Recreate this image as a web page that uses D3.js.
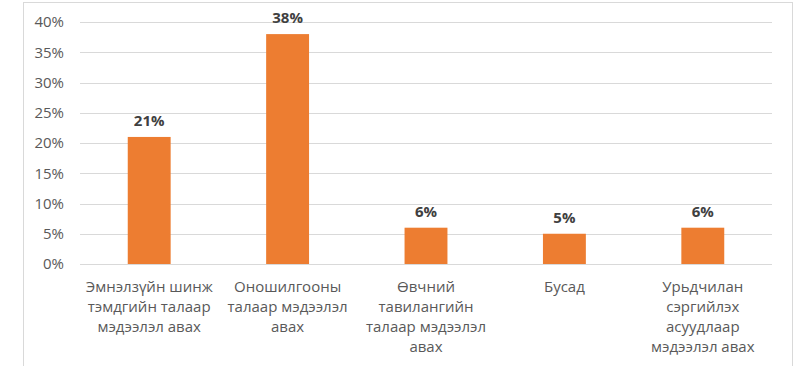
<!DOCTYPE html>
<html><head><meta charset="utf-8">
<script src="https://cdn.jsdelivr.net/npm/d3@7"></script>
<style>
html,body{margin:0;padding:0;background:#fff;}
svg{display:block;font-family:"Open Sans",sans-serif;}
</style></head>
<body><svg id="c" width="800" height="366"></svg>
<script>
const categories = [
  ["Эмнэлзүйн шинж","тэмдгийн талаар","мэдээлэл авах"],
  ["Оношилгооны","талаар мэдээлэл","авах"],
  ["Өвчний","тавилангийн","талаар мэдээлэл","авах"],
  ["Бусад"],
  ["Урьдчилан","сэргийлэх","асуудлаар","мэдээлэл авах"]
];
const values = [21, 38, 6, 5, 6];
const yTicks = [0, 5, 10, 15, 20, 25, 30, 35, 40];

const svg = d3.select("#c");
// chart border
svg.append("rect").attr("x", 23.5).attr("y", 2.5).attr("width", 769).attr("height", 380)
  .attr("fill", "#fff").attr("stroke", "#d9d9d9").attr("stroke-width", 1);

const x = d3.scaleBand().domain(d3.range(values.length)).range([80, 772])
  .paddingInner(0.69).paddingOuter(0.345);
const y = d3.scaleLinear().domain([0, 40]).range([264, 22]);

// gridlines
svg.append("g").selectAll("line").data(yTicks).join("line")
  .attr("x1", 80).attr("x2", 772)
  .attr("y1", d => Math.round(y(d)) + 0.5).attr("y2", d => Math.round(y(d)) + 0.5)
  .attr("stroke", "#d9d9d9").attr("stroke-width", 1);

// y axis labels
const yAxis = d3.axisLeft(y).tickValues(yTicks).tickFormat(d => d + "%").tickSize(0).tickPadding(0);
const ga = svg.append("g").attr("transform", "translate(64,0)").call(yAxis);
ga.select(".domain").remove();
ga.selectAll("text").attr("fill", "#595959").attr("font-size", 15)
  .attr("font-family", "Open Sans, sans-serif");

// bars
svg.append("g").selectAll("rect").data(values).join("rect")
  .attr("x", (d, i) => x(i)).attr("width", x.bandwidth())
  .attr("y", d => y(d)).attr("height", d => y(0) - y(d))
  .attr("fill", "#ED7D31");

// data labels
svg.append("g").selectAll("text").data(values).join("text")
  .attr("x", (d, i) => x(i) + x.bandwidth() / 2)
  .attr("y", d => y(d) - 11)
  .attr("text-anchor", "middle").attr("font-size", 15).attr("font-weight", "bold")
  .attr("fill", "#404040").text(d => d + "%");

// category labels
const cg = svg.append("g");
categories.forEach((lines, i) => {
  const t = cg.append("text").attr("text-anchor", "middle")
    .attr("font-size", 15).attr("fill", "#595959");
  lines.forEach((ln, j) => {
    t.append("tspan").attr("x", x(i) + x.bandwidth() / 2).attr("y", 292 + j * 20).text(ln);
  });
});
</script></body></html>
